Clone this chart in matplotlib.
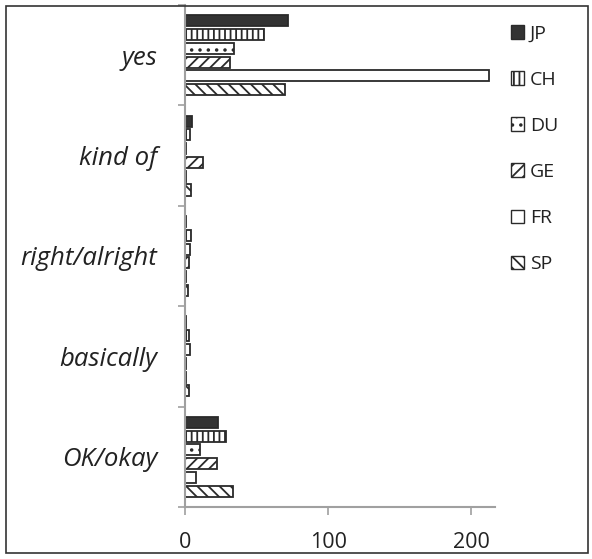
import matplotlib
matplotlib.use("Agg")
import matplotlib.pyplot as plt
from matplotlib.patches import Rectangle, Patch
import numpy as np

categories = ["yes", "kind of", "right/alright", "basically", "OK/okay"]
series = ["JP", "CH", "DU", "GE", "FR", "SP"]
JP = [72, 5, 1, 1, 23]
CH = [55.3, 3.5, 4.5, 2.5, 28.5]
DU = [34.6, 0.5, 3.5, 3.5, 10.5]
GE = [31.8, 12.5, 3, 0.5, 22.7]
FR = [212.4, 1, 0.5, 1, 8]
SP = [69.7, 4, 2, 2.5, 33.5]
values = [JP, CH, DU, GE, FR, SP]
xticks = [0, 100, 200]

plt.rcParams['hatch.linewidth'] = 1.3
edge = "#2a2a2a"
styles = [
    dict(facecolor="#333333", hatch=None),
    dict(facecolor="white", hatch="|||"),
    dict(facecolor="white", hatch=".."),
    dict(facecolor="white", hatch="///"),
    dict(facecolor="white", hatch=None),
    dict(facecolor="white", hatch="\\\\\\"),
]

fig = plt.figure(figsize=(5.92, 5.59), dpi=100)
ax = fig.add_axes([185/592, 1-507/559, (495-185)/592, (507-5)/559])

slot = 0.137
h = 0.11
for j, vals in enumerate(values):
    ys = np.arange(len(categories)) + (j - 2.5) * slot
    ax.barh(ys, vals, height=h, edgecolor=edge, linewidth=1.3, **styles[j])

ax.set_ylim(len(categories) - 0.5, -0.5)
ax.set_xlim(0, 216.7)
ax.set_yticks(np.arange(len(categories)))
ax.set_yticklabels(categories, fontsize=18.5, fontstyle="italic", family="Open Sans", color="#222222")
ax.set_yticks(np.arange(len(categories) + 1) - 0.5, minor=True)
ax.tick_params(axis="y", which="major", length=0, pad=20)
ax.tick_params(axis="y", which="minor", length=5, color="#a0a0a0", width=1.2)
ax.set_xticks(xticks)
ax.set_xticklabels([str(t) for t in xticks], fontsize=15.5, family="Open Sans", color="#222222")
ax.tick_params(axis="x", length=6, color="#a0a0a0", width=1.2, pad=12)
for s in ["top", "right"]:
    ax.spines[s].set_visible(False)
for s in ["left", "bottom"]:
    ax.spines[s].set_color("#a0a0a0")
    ax.spines[s].set_linewidth(1.5)

handles = [Patch(edgecolor=edge, linewidth=1.0, label=series[j], **styles[j]) for j in range(len(series))]
leg = fig.legend(handles=handles, loc="upper left", bbox_to_anchor=(493/592, 1-7/559),
                 frameon=False, handlelength=0.7, handleheight=0.7, handletextpad=0.3,
                 labelspacing=1.45, prop={"family": "Open Sans", "size": 14})
for t in leg.get_texts():
    t.set_color("#222222")

fig.patches.append(Rectangle((6/592, 6/559), (588-6)/592, (553-6)/559, transform=fig.transFigure,
                             fill=False, edgecolor="#333333", linewidth=1.2))
fig.savefig("out.png", dpi=100)
